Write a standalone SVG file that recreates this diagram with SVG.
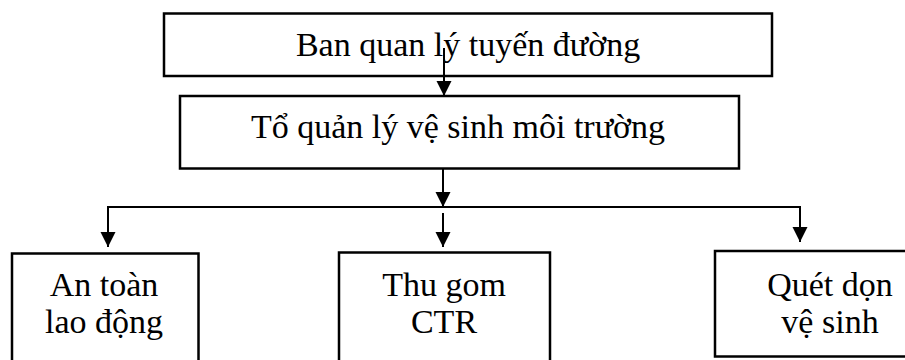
<svg xmlns="http://www.w3.org/2000/svg" width="905" height="360" viewBox="0 0 905 360">
<style>
.box{fill:#fff;stroke:#000;stroke-width:2.5}
.lbl{font-family:"Liberation Serif","Times New Roman",serif;font-size:34px;fill:#000;text-anchor:middle}
.con{fill:none;stroke:#000;stroke-width:2}
</style>
<defs>
<marker id="arr" markerUnits="userSpaceOnUse" markerWidth="16" markerHeight="16" refX="15" refY="8" orient="auto" overflow="visible">
<path d="M0,0.5 L15,8 L0,15.5 z" fill="#000"/>
</marker>
</defs>
<rect width="905" height="360" fill="#fff"/>
<g id="ban-quan-ly">
<rect class="box" x="164" y="13.5" width="608" height="62.5"/>
<text class="lbl" x="468" y="56">Ban quan lý tuyến đường</text>
</g>
<g id="to-quan-ly">
<rect class="box" x="180" y="96" width="559" height="72.5"/>
<text class="lbl" x="458" y="138">Tổ quản lý vệ sinh môi trường</text>
</g>
<g id="an-toan">
<rect class="box" x="12" y="253.5" width="186.5" height="120"/>
<text class="lbl" x="104" y="296">An toàn</text>
<text class="lbl" x="104" y="333">lao động</text>
</g>
<g id="thu-gom">
<rect class="box" x="339" y="252.5" width="211" height="120"/>
<text class="lbl" x="444" y="296">Thu gom</text>
<text class="lbl" x="444" y="333">CTR</text>
</g>
<g id="quet-don">
<rect class="box" x="715" y="251" width="210" height="105.5"/>
<text class="lbl" x="830" y="296">Quét dọn</text>
<text class="lbl" x="830" y="333">vệ sinh</text>
</g>
<g id="connectors">
<line class="con" x1="444" y1="48" x2="444" y2="96" marker-end="url(#arr)"/>
<line class="con" x1="443" y1="168.5" x2="443" y2="207" marker-end="url(#arr)"/>
<line class="con" x1="107" y1="207" x2="801" y2="207"/>
<polyline class="con" points="108,207 108,247" marker-end="url(#arr)"/>
<line class="con" x1="443" y1="213" x2="443" y2="247" marker-end="url(#arr)"/>
<polyline class="con" points="800,207 800,242" marker-end="url(#arr)"/>
</g>
</svg>
